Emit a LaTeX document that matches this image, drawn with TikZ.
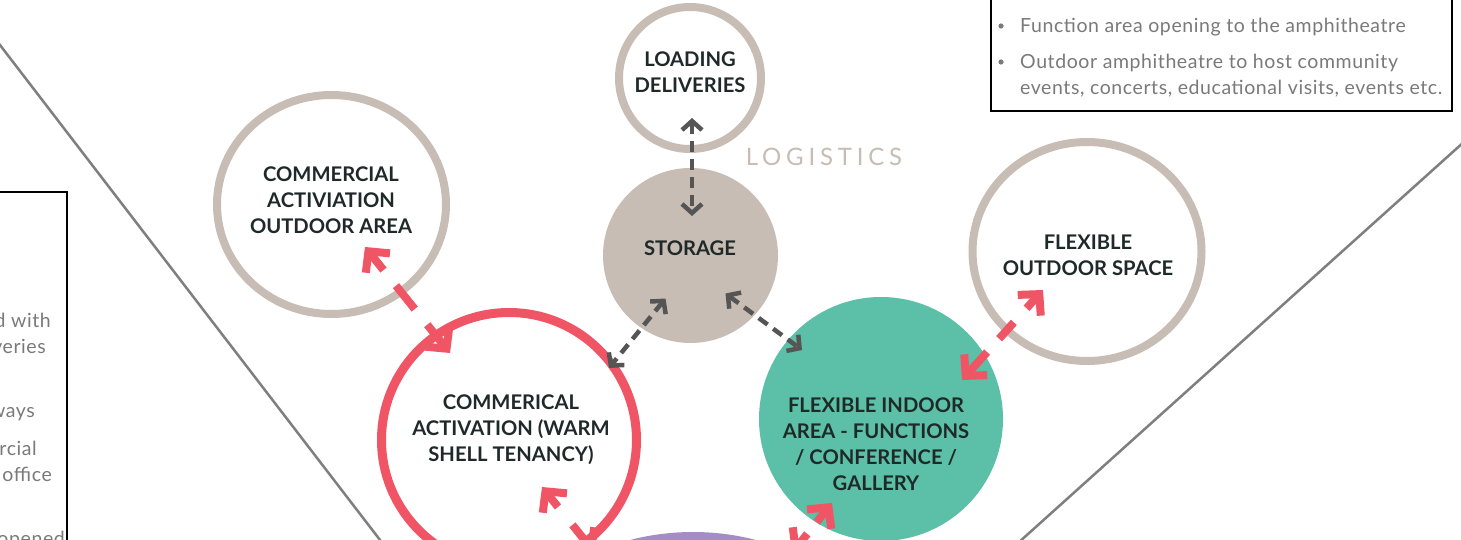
\documentclass[tikz,border=0pt]{standalone}
\usepackage{fontspec}
\setmainfont{Lato}
\usetikzlibrary{arrows.meta,shapes.geometric}
\definecolor{tanc}{HTML}{C7BDB4}
\definecolor{redc}{HTML}{EF5565}
\definecolor{greenc}{HTML}{5BC0A7}
\definecolor{purplec}{HTML}{A48DC4}
\definecolor{darkc}{HTML}{555555}
\definecolor{txtc}{HTML}{1F2A28}
\definecolor{bodyc}{HTML}{7A7A7A}
\definecolor{linec}{HTML}{7F7F7F}
\begin{document}
\begin{tikzpicture}[x=1pt,y=-1pt,
  ring/.style={draw=tanc,line width=8pt,inner sep=0pt,outer sep=0pt},
  disc/.style={circle,inner sep=0pt,outer sep=0pt},
  lbl/.style={font=\fontsize{20.2}{26}\selectfont\bfseries,text=txtc,align=center,inner sep=0pt},
  body/.style={font=\fontsize{19.5}{26}\selectfont\addfontfeature{LetterSpace=3},text=bodyc,inner sep=0pt},
  redarrow/.style={draw=redc,line width=8pt,dash pattern=on 20pt off 20pt on 30pt off 20pt,
    {Straight Barb[length=15pt,width=31pt,sharp]}-{Straight Barb[length=15pt,width=31pt,sharp]}},
  darkarrow/.style={draw=darkc,line width=4.5pt,dash pattern=on 11pt off 7pt,
    {Straight Barb[length=9pt,width=20pt,sharp]}-{Straight Barb[length=9pt,width=20pt,sharp]}},
  boxline/.style={draw=black,line width=2pt},
  guide/.style={draw=linec,line width=2.5pt}]
\useasboundingbox (0,0) rectangle (1461,540);
\clip (0,0) rectangle (1461,540);
\fill[white] (0,0) rectangle (1461,540);

% site boundary lines
\draw[guide] (-10,32) -- (390,553);
\draw[guide] (1475,132) -- (1008,552);

% text boxes
\draw[boxline] (-10,192) rectangle (67,560);
\draw[boxline] (991,-10) rectangle (1452,111);

\node[body,anchor=base east] (l1) at (51,327) {d with};
\node[body,anchor=base east] (l2) at (46,353) {veries};
\node[body,anchor=base east] (l3) at (35,417) {ways};
\node[body,anchor=base east] (l4) at (37,455) {rcial};
\node[body,anchor=base east] (l5) at (52,481) {office};
\node[body,anchor=base east] (l6) at (65,545) {opened};

\node[body,anchor=base west] (r1) at (1020,33) {Function area opening to the amphitheatre};
\node[body,anchor=base west] (r2) at (1020,69) {Outdoor amphitheatre to host community};
\node[body,anchor=base west] (r3) at (1020,95) {events, concerts, educational visits, events etc.};
\fill[bodyc] (1001,26) circle (2.6);
\fill[bodyc] (1001,62) circle (2.6);

% zones
\node[ring,circle,minimum size=142pt] (loading) at (690,78) {};
\node[ring,ellipse,minimum width=229pt,minimum height=219pt] (outdoor) at (331.5,204.5) {};
\node[ring,ellipse,minimum width=229pt,minimum height=219pt] (flexout) at (1087,251.5) {};
\node[disc,fill=tanc,minimum size=175pt] (storage) at (690.5,255.5) {};
\node[disc,fill=greenc,minimum size=244pt] (indoor) at (881,419) {};
\node[disc,fill=purplec,minimum size=500pt] (purple) at (693,782) {};
\node[circle,draw=redc,line width=9pt,inner sep=0pt,outer sep=0pt,minimum size=255pt] (commercial) at (509,440) {};

% labels
\node[lbl] (loadingtxt) at (690,72) {LOADING\\DELIVERIES};
\node[lbl] (outdoortxt) at (331,200) {COMMERCIAL\\ACTIVIATION\\OUTDOOR AREA};
\node[lbl] (storagetxt) at (690,248) {STORAGE};
\node[lbl] (flexouttxt) at (1088,255) {FLEXIBLE\\OUTDOOR SPACE};
\node[lbl] (commercialtxt) at (511,430) {COMMERICAL\\ACTIVATION (WARM\\SHELL TENANCY)};
\node[lbl] (indoortxt) at (876,444.5) {FLEXIBLE INDOOR\\AREA - FUNCTIONS\\/ CONFERENCE /\\GALLERY};
\node[font=\fontsize{24}{28}\selectfont\addfontfeature{LetterSpace=20},text=tanc,inner sep=0pt] (logistics) at (824,157) {LOGISTICS};

% service links
\draw[darkarrow] ([shift={(2,40)}]loading.center) -- ([shift={(1.5,-39.5)}]storage.center);
\draw[darkarrow] ([shift={(-25,43)}]storage.center) -- ([shift={(100,-72)}]commercial.center);
\draw[darkarrow] ([shift={(35,38)}]storage.center) -- ([shift={(-79,-69)}]indoor.center);

% activity links
\draw[redarrow,dash pattern=on 20pt off 20pt on 30pt off 20pt on 40pt]
  ([shift={(33.5,42.5)}]outdoor.center) -- ([shift={(-59,-87)}]commercial.center);
\draw[redarrow,dash pattern=on 15pt off 19pt on 22pt off 18pt on 40pt]
  ([shift={(-44,38.5)}]flexout.center) -- ([shift={(81,-39)}]indoor.center);
\draw[redarrow,dash pattern=on 16pt off 23pt on 40pt]
  ([shift={(33,47)}]commercial.center) -- ([shift={(-98,-229)}]purple.center);
\draw[redarrow,dash pattern=on 15pt off 15pt on 40pt]
  ([shift={(-49,84)}]indoor.center) -- ([shift={(99,-229)}]purple.center);
\end{tikzpicture}
\end{document}
